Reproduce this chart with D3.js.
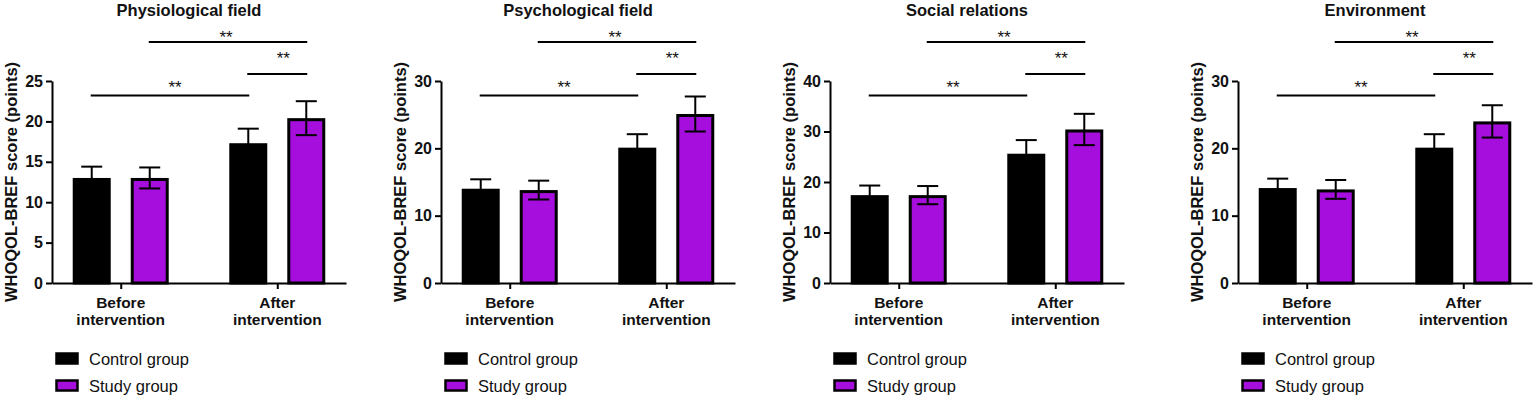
<!DOCTYPE html>
<html>
<head>
<meta charset="utf-8">
<script src="https://cdn.jsdelivr.net/npm/d3@7"></script>
<style>
  html, body { margin: 0; padding: 0; background: #ffffff; }
  svg { display: block; font-family: "Liberation Sans", Arial, sans-serif; }
</style>
</head>
<body>
<svg id="chart" width="1535" height="397"></svg>
<script>
// ---------------- data ----------------
const panelTitles = ["Physiological field", "Psychological field", "Social relations", "Environment"];
const timepoints = ["Before intervention", "After intervention"];
const groups = ["Control group", "Study group"];
const yMax = [25, 30, 40, 30];
const yTickStep = [5, 10, 10, 10];
const controlMean = [[13.0, 17.3], [14.0, 20.1], [17.4, 25.6], [14.1, 20.1]];
const controlSD   = [[1.4, 1.8],  [1.4, 2.0],  [1.9, 2.7],  [1.4, 2.0]];
const studyMean   = [[13.0, 20.4], [13.8, 25.1], [17.4, 30.4], [13.9, 24.0]];
const studySD     = [[1.3, 2.1],  [1.4, 2.6],  [1.8, 3.1],  [1.4, 2.4]];
const yAxisLabel = "WHOQOL-BREF score (points)";
const sigLabel = "**";

// ---------------- layout ----------------
const panelLeft = [52, 441, 830, 1238];
const plotW = 294, yTop = 81, yBottom = 283;
const colors = { "Control group": "#000000", "Study group": "#a50edc" };
// significance brackets: [from (timepoint, group), to (timepoint, group)], line y, label y, label dx
const brackets = [
  { from: [0, 1], to: [1, 1], lineY: 42, textY: 42.5, dx: -2 },
  { from: [1, 0], to: [1, 1], lineY: 74, textY: 63.5, dx: 6 },
  { from: [0, 0], to: [1, 0], lineY: 95.5, textY: 92.5, dx: 5 }
];

const svg = d3.select("#chart");

panelTitles.forEach((title, pi) => {
  const g = svg.append("g").attr("transform", `translate(${panelLeft[pi]},0)`);

  const x = d3.scalePoint().domain(timepoints).range([0, plotW]).padding(0.439);
  const xs = d3.scaleBand().domain(groups).range([-48, 48]).paddingInner(0.345);
  const y = d3.scaleLinear().domain([0, yMax[pi]]).range([yBottom, yTop]);

  const rows = [];
  timepoints.forEach((t, ti) => {
    rows.push({ t, g: groups[0], mean: controlMean[pi][ti], sd: controlSD[pi][ti] });
    rows.push({ t, g: groups[1], mean: studyMean[pi][ti], sd: studySD[pi][ti] });
  });

  const cx = d => x(d.t) + xs(d.g) + xs.bandwidth() / 2;

  // bars
  const sw = 3;
  g.selectAll("rect.bar").data(rows).enter().append("rect")
    .attr("class", "bar")
    .attr("x", d => x(d.t) + xs(d.g) + sw / 2)
    .attr("width", xs.bandwidth() - sw)
    .attr("y", d => y(d.mean) + sw / 2)
    .attr("height", d => y(0) - y(d.mean) - sw / 2)
    .attr("fill", d => colors[d.g])
    .attr("stroke", "#000")
    .attr("stroke-width", sw);

  // error bars
  const capW = 21;
  const eb = g.selectAll("g.err").data(rows).enter().append("g").attr("class", "err")
    .attr("stroke", "#000").attr("stroke-width", 2);
  eb.append("line")
    .attr("x1", cx).attr("x2", cx)
    .attr("y1", d => y(d.mean + d.sd)).attr("y2", d => y(d.mean - d.sd));
  eb.append("line")
    .attr("x1", d => cx(d) - capW / 2).attr("x2", d => cx(d) + capW / 2)
    .attr("y1", d => y(d.mean + d.sd)).attr("y2", d => y(d.mean + d.sd));
  eb.append("line")
    .attr("x1", d => cx(d) - capW / 2).attr("x2", d => cx(d) + capW / 2)
    .attr("y1", d => y(d.mean - d.sd)).attr("y2", d => y(d.mean - d.sd));

  // y axis
  const ticks = d3.range(0, yMax[pi] + 0.001, yTickStep[pi]);
  const yAxis = g.append("g")
    .call(d3.axisLeft(y).tickValues(ticks).tickSize(6).tickSizeOuter(0).tickPadding(3).tickFormat(d3.format("d")));
  yAxis.select(".domain").attr("stroke", "#000").attr("stroke-width", 2);
  yAxis.selectAll(".tick line").attr("stroke", "#000").attr("stroke-width", 2);
  yAxis.selectAll(".tick text")
    .attr("fill", "#111").attr("font-size", 16).attr("font-weight", "bold")
    .attr("font-family", "'Liberation Sans', Arial, sans-serif");

  // x axis
  const xAxis = g.append("g").attr("transform", `translate(0,${yBottom})`)
    .call(d3.axisBottom(x).tickSize(6).tickSizeOuter(0).tickFormat(""));
  xAxis.select(".domain").attr("stroke", "#000").attr("stroke-width", 2);
  xAxis.selectAll(".tick line").attr("stroke", "#000").attr("stroke-width", 2);

  // x category labels (two lines)
  timepoints.forEach(t => {
    const words = t.split(" ");
    const txt = g.append("text")
      .attr("x", x(t)).attr("y", yBottom + 25)
      .attr("text-anchor", "middle")
      .attr("font-size", 15.5).attr("font-weight", "bold").attr("fill", "#111");
    words.forEach((w, wi) => {
      txt.append("tspan").attr("x", x(t)).attr("dy", wi === 0 ? 0 : 17).text(w);
    });
  });

  // title
  g.append("text")
    .attr("x", plotW / 2 - 10).attr("y", 16)
    .attr("text-anchor", "middle")
    .attr("font-size", 16.5).attr("font-weight", "bold").attr("fill", "#111")
    .text(title);

  // y axis label
  g.append("text")
    .attr("transform", `translate(-35,${(yTop + yBottom) / 2}) rotate(-90)`)
    .attr("text-anchor", "middle")
    .attr("font-size", 16.5).attr("font-weight", "bold").attr("fill", "#111")
    .text(yAxisLabel);

  // significance brackets
  const posOf = ([ti, gi]) => x(timepoints[ti]) + xs(groups[gi]) + xs.bandwidth() / 2;
  brackets.forEach(b => {
    const x1 = posOf(b.from), x2 = posOf(b.to);
    g.append("line")
      .attr("x1", x1 - 1).attr("x2", x2 + 1)
      .attr("y1", b.lineY).attr("y2", b.lineY)
      .attr("stroke", "#000").attr("stroke-width", 2);
    g.append("text")
      .attr("x", (x1 + x2) / 2 + b.dx).attr("y", b.textY)
      .attr("text-anchor", "middle")
      .attr("font-size", 17).attr("fill", "#111")
      .text(sigLabel);
  });

  // legend
  groups.forEach((grp, gi) => {
    const ly = 353 + gi * 27;
    g.append("rect")
      .attr("x", 4.5).attr("y", ly + 0.5)
      .attr("width", 21).attr("height", 10)
      .attr("fill", colors[grp]).attr("stroke", "#000").attr("stroke-width", 2.5);
    g.append("text")
      .attr("x", 37).attr("y", ly + 11.5)
      .attr("font-size", 16.5).attr("fill", "#111")
      .text(grp);
  });
});
</script>
</body>
</html>
